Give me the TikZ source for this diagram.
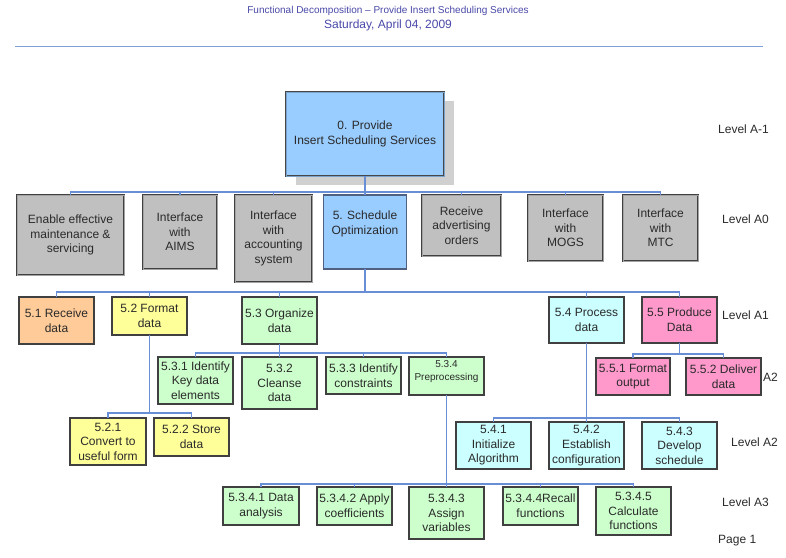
\documentclass[tikz,border=0pt]{standalone}
\usepackage{fontspec}
\setmainfont{Liberation Sans}
\usetikzlibrary{shadows}
\definecolor{grayfill}{HTML}{C0C0C0}
\definecolor{bluefill}{HTML}{99CCFF}
\definecolor{orangefill}{HTML}{FFCC99}
\definecolor{yellowfill}{HTML}{FFFF99}
\definecolor{greenfill}{HTML}{CCFFCC}
\definecolor{cyanfill}{HTML}{CCFFFF}
\definecolor{pinkfill}{HTML}{FF99CC}
\definecolor{connc}{RGB}{104,142,214}
\definecolor{rulec}{RGB}{125,160,220}
\definecolor{titlec}{RGB}{72,72,168}
\definecolor{boxline}{HTML}{404040}
\definecolor{txt}{HTML}{2A2A2A}
\definecolor{shadowgray}{HTML}{D0D0D0}
\tikzset{
  box/.style={draw=boxline, line width=1.1pt, inner sep=0pt, outer sep=0pt,
    align=center, text=txt, font=\fontsize{12}{14.6}\selectfont},
  gbox/.style={box, fill=grayfill, draw=black!75, line width=1pt,
    double=grayfill!85!black, double distance=0.8pt},
  topbox/.style={box, fill=bluefill, draw=black!72, line width=0.9pt,
    double=bluefill!80!black, double distance=0.8pt,
    drop shadow={shadow xshift=10pt, shadow yshift=-9pt, fill=shadowgray, opacity=1}},
  schedbox/.style={box, fill=bluefill, draw={rgb,255:red,80;green,96;blue,128}, line width=1.6pt},
  ybox/.style={box, fill=yellowfill},
  gnbox/.style={box, fill=greenfill},
  cbox/.style={box, fill=cyanfill},
  pbox/.style={box, fill=pinkfill},
  obox/.style={box, fill=orangefill},
  conn/.style={draw=connc, line width=1.3pt},
  lvl/.style={anchor=west, inner sep=0pt, text=txt, font=\fontsize{12}{14}\selectfont},
}
\begin{document}
\begin{tikzpicture}[x=1pt,y=-1pt]
\useasboundingbox (0,0) rectangle (786,557);

% header
\node[text=titlec, font=\fontsize{10}{12}\selectfont] (title) at (388,11) {Functional Decomposition – Provide Insert Scheduling Services};
\node[text=titlec, font=\fontsize{12}{14}\selectfont] (date) at (388,25) {Saturday, April 04, 2009};
\draw[rulec, line width=1pt] (15,46) -- (763,46);

% level -1
\node[topbox, minimum width=158pt, minimum height=84pt] (top) at (365,134) {0. Provide\\Insert Scheduling Services};

% level A0
\node[gbox, minimum width=107pt, minimum height=80pt] (e1) at (70.5,235) {Enable effective\\maintenance \&\\servicing};
\node[gbox, minimum width=74pt, minimum height=74pt] (e2) at (180,232) {Interface\\with\\AIMS};
\node[gbox, minimum width=77pt, minimum height=87pt] (e3) at (273.5,238.5) {Interface\\with\\accounting\\system};
\node[schedbox, minimum width=83pt, minimum height=74pt] (e4) at (365,232) {5. Schedule\\Optimization\\[4pt]\mbox{}};
\node[gbox, minimum width=79pt, minimum height=61pt] (e5) at (461.5,225.5) {Receive\\advertising\\orders};
\node[gbox, minimum width=75pt, minimum height=66pt] (e6) at (565.5,228) {Interface\\with\\MOGS};
\node[gbox, minimum width=75pt, minimum height=66pt] (e7) at (660.5,228) {Interface\\with\\MTC};

% level A1
\node[obox, minimum width=75pt, minimum height=47pt] (a1) at (56.5,320.5) {5.1 Receive\\data};
\node[ybox, minimum width=75pt, minimum height=38pt] (a2) at (149.5,316) {5.2 Format\\data};
\node[gnbox, minimum width=75pt, minimum height=47pt] (a3) at (279.5,320.5) {5.3 Organize\\data};
\node[cbox, minimum width=75pt, minimum height=46pt] (a4) at (586.5,320) {5.4 Process\\data};
\node[pbox, minimum width=75pt, minimum height=46pt] (a5) at (679.5,320) {5.5 Produce\\Data};

% 5.2 children
\node[ybox, minimum width=76pt, minimum height=47pt] (b1) at (108,441.5) {5.2.1\\Convert to\\useful form};
\node[ybox, minimum width=75pt, minimum height=38pt] (b2) at (191.5,437) {5.2.2 Store\\data};

% 5.3 children
\node[gnbox, minimum width=75pt, minimum height=47pt] (c1) at (195.5,380.5) {5.3.1 Identify\\Key data\\elements};
\node[gnbox, minimum width=75pt, minimum height=52pt] (c2) at (279.5,383) {5.3.2\\Cleanse\\data};
\node[gnbox, minimum width=75pt, minimum height=37pt] (c3) at (363.5,375.5) {5.3.3 Identify\\constraints};
\node[gnbox, minimum width=75pt, minimum height=38pt, font=\fontsize{10}{13}\selectfont] (c4) at (446.5,376) {5.3.4\\Preprocessing\\[-2.5pt]\mbox{}};

% 5.5 children
\node[pbox, minimum width=74pt, minimum height=37pt] (d1) at (633,376.5) {5.5.1 Format\\output};
\node[pbox, minimum width=75pt, minimum height=37pt] (d2) at (723.5,376.5) {5.5.2 Deliver\\data};

% 5.4 children
\node[cbox, minimum width=75pt, minimum height=47pt] (f1) at (493.5,445.5) {5.4.1\\Initialize\\Algorithm};
\node[cbox, minimum width=75pt, minimum height=47pt] (f2) at (586.5,445.5) {5.4.2\\Establish\\configuration};
\node[cbox, minimum width=75pt, minimum height=47pt] (f3) at (679.5,445.5) {5.4.3\\Develop\\schedule};

% A3
\node[gnbox, minimum width=76pt, minimum height=38pt] (g1) at (261,506) {5.3.4.1 Data\\analysis};
\node[gnbox, minimum width=75pt, minimum height=38pt] (g2) at (354.5,506) {5.3.4.2 Apply\\coefficients};
\node[gnbox, minimum width=75pt, minimum height=52pt] (g3) at (446.5,513) {5.3.4.3\\Assign\\variables};
\node[gnbox, minimum width=75pt, minimum height=38pt] (g4) at (540.5,506) {5.3.4.4Recall\\functions};
\node[gnbox, minimum width=75pt, minimum height=48pt] (g5) at (633.5,511) {5.3.4.5\\Calculate\\functions};

% level labels
\node[lvl] (lA-1) at (718,129) {Level A-1};
\node[lvl] (lA0) at (722,219) {Level A0};
\node[lvl] (lA1) at (722,315) {Level A1};
\node[lvl] (lA2a) at (763,377) {A2};
\node[lvl] (lA2) at (731,442) {Level A2};
\node[lvl] (lA3) at (722,502) {Level A3};
\node[lvl] (page) at (718,541) {Page 1};

% bus levels
\coordinate (bus0) at (0,192);
\coordinate (bus1) at (0,292);
\coordinate (bus52) at (0,413);
\coordinate (bus53) at (0,353);
\coordinate (bus55) at (0,354);
\coordinate (bus54) at (0,418);
\coordinate (bus534) at (0,484);

% connectors
\foreach \c in {e1,e2,e3,e4,e5,e6,e7}
  \draw[conn] (top.south) -- (top.south |- bus0) -| (\c.north);
\foreach \c in {a1,a2,a3,a4,a5}
  \draw[conn] (e4.south) -- (e4.south |- bus1) -| (\c.north);
\foreach \c in {b1,b2}
  \draw[conn] (a2.south) -- (a2.south |- bus52) -| (\c.north);
\foreach \c in {c1,c2,c3,c4}
  \draw[conn] (a3.south) -- (a3.south |- bus53) -| (\c.north);
\foreach \c in {d1,d2}
  \draw[conn] (a5.south) -- (a5.south |- bus55) -| (\c.north);
\foreach \c in {f1,f2,f3}
  \draw[conn] (a4.south) -- (a4.south |- bus54) -| (\c.north);
\foreach \c in {g1,g2,g3,g4,g5}
  \draw[conn] (c4.south) -- (c4.south |- bus534) -| (\c.north);
\end{tikzpicture}
\end{document}
